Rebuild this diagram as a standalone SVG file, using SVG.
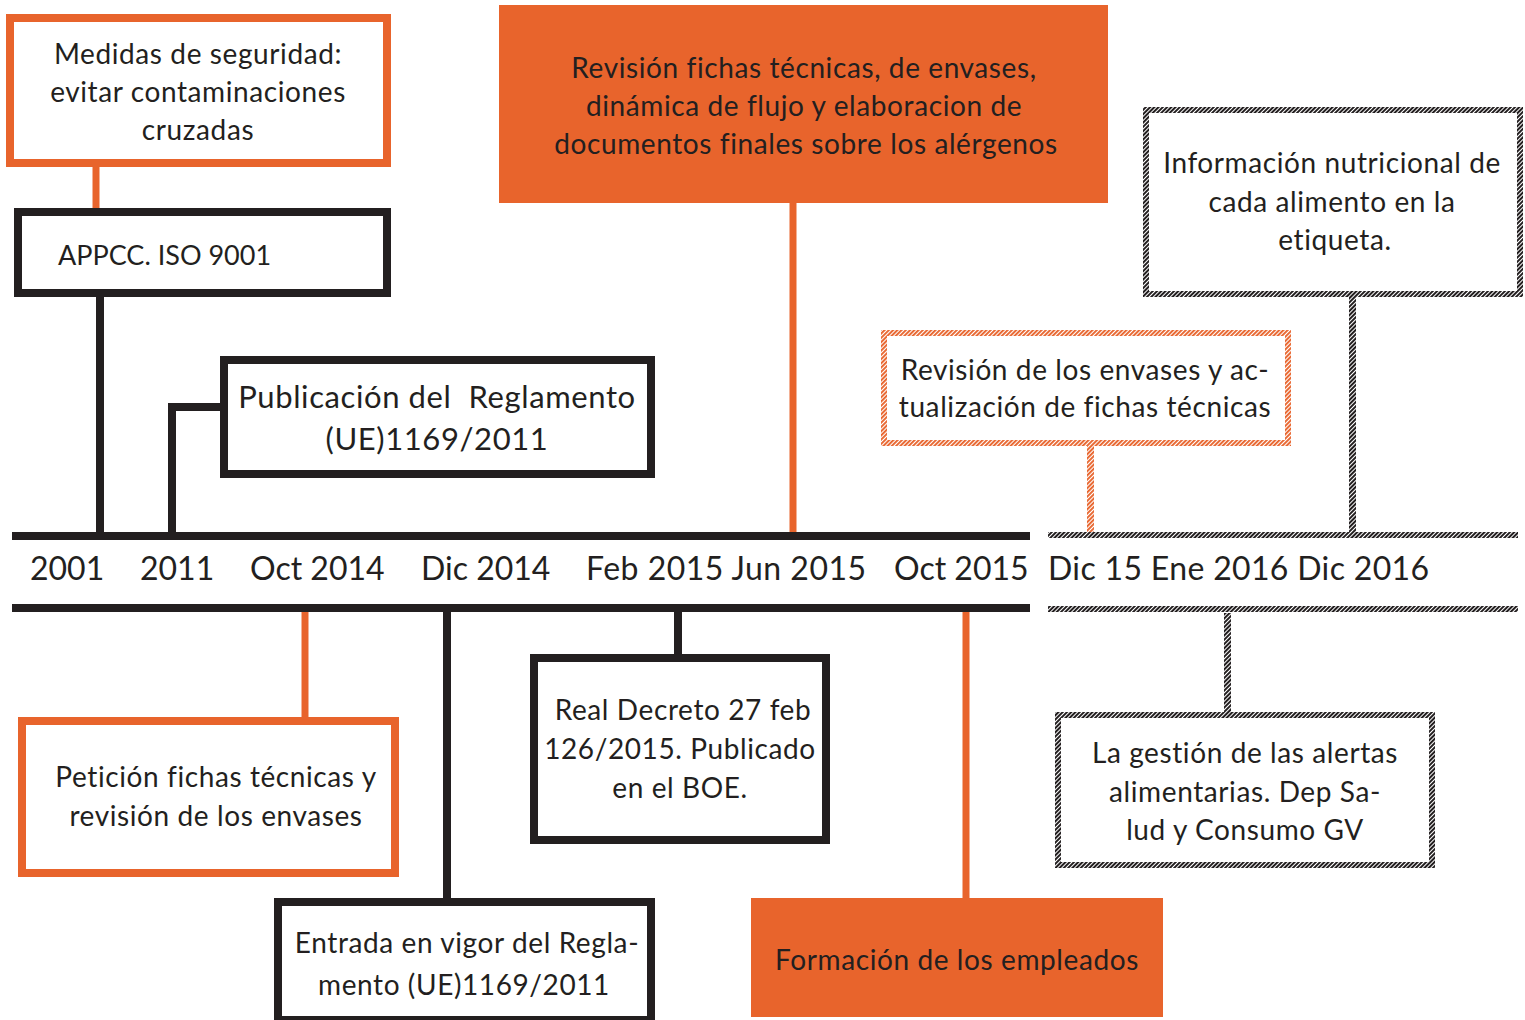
<svg xmlns="http://www.w3.org/2000/svg" width="1525" height="1020" viewBox="0 0 1525 1020">
<defs>
<pattern id="hatchK" patternUnits="userSpaceOnUse" width="3" height="3" patternTransform="rotate(45)">
<rect width="3" height="3" fill="#ffffff"/>
<rect width="2" height="3" fill="#231F20"/>
</pattern>
<pattern id="hatchO" patternUnits="userSpaceOnUse" width="3" height="3" patternTransform="rotate(45)">
<rect width="3" height="3" fill="#ffffff"/>
<rect width="1.9" height="3" fill="#E8642C"/>
</pattern>
<style>
text{font-family:Lato,"Carlito","Liberation Sans",sans-serif;fill:#231F20;}
.t{font-size:28px;letter-spacing:0.6px;text-anchor:middle;}
.big{font-size:31px;letter-spacing:0.6px;text-anchor:middle;white-space:pre;}
.tl{font-size:32px;}
.bk{fill:#ffffff;stroke:#231F20;stroke-width:8;}
.or{fill:#ffffff;stroke:#E8642C;stroke-width:8;}
.of{fill:#E8642C;}
.hk{fill:#ffffff;stroke:url(#hatchK);stroke-width:6;}
.ho{fill:#ffffff;stroke:url(#hatchO);stroke-width:6;}
.lk{stroke:#231F20;stroke-width:8;fill:none;}
.lo{stroke:#E8642C;stroke-width:7;fill:none;}
</style>
</defs>
<rect width="1525" height="1020" fill="#ffffff"/>

<g id="connectors">
<line class="lo" x1="96" y1="166" x2="96" y2="210"/>
<line class="lk" x1="100" y1="295" x2="100" y2="536"/>
<polyline class="lk" points="172,536 172,407 222,407"/>
<line class="lo" x1="793" y1="203" x2="793" y2="534"/>
<rect x="1349" y="297" width="7" height="236" fill="url(#hatchK)"/>
<rect x="1087" y="446" width="7" height="87" fill="url(#hatchO)"/>
<line class="lo" x1="305" y1="610" x2="305" y2="720"/>
<line class="lk" x1="447" y1="610" x2="447" y2="900"/>
<line class="lk" x1="678" y1="610" x2="678" y2="657"/>
<line class="lo" x1="966" y1="610" x2="966" y2="899"/>
<rect x="1224" y="613" width="7" height="100" fill="url(#hatchK)"/>
</g>

<g id="timeline">
<rect x="12" y="532" width="1018" height="8" fill="#231F20"/>
<rect x="12" y="604" width="1018" height="8" fill="#231F20"/>
<rect x="1048" y="532" width="470" height="6" fill="url(#hatchK)"/>
<rect x="1048" y="606" width="470" height="6" fill="url(#hatchK)"/>
<text class="tl" x="30" y="580">2001</text>
<text class="tl" x="140" y="580">2011</text>
<text class="tl" x="250" y="580">Oct 2014</text>
<text class="tl" x="421" y="580">Dic 2014</text>
<text class="tl" x="586" y="580" textLength="280" lengthAdjust="spacing">Feb 2015 Jun 2015</text>
<text class="tl" x="894" y="580">Oct 2015</text>
<text class="tl" x="1048" y="580" textLength="381" lengthAdjust="spacing">Dic 15 Ene 2016 Dic 2016</text>
</g>

<g id="n-medidas">
<rect class="or" x="10" y="18" width="377" height="145"/>
<text class="t" x="198" y="64">Medidas de seguridad:</text>
<text class="t" x="198" y="102">evitar contaminaciones</text>
<text class="t" x="198" y="140">cruzadas</text>
</g>

<g id="n-appcc">
<rect class="bk" x="18" y="212" width="369" height="81"/>
<text x="58" y="265" style="font-size:27px;letter-spacing:0">APPCC. ISO 9001</text>
</g>

<g id="n-publicacion">
<rect class="bk" x="224" y="360" width="427" height="114"/>
<text class="big" x="437" y="408">Publicación del  Reglamento</text>
<text class="big" x="437" y="450">(UE)1169/2011</text>
</g>

<g id="n-revision-fichas">
<rect class="of" x="499" y="5" width="609" height="198"/>
<text class="t" x="804" y="78">Revisión fichas técnicas, de envases,</text>
<text class="t" x="804" y="116">dinámica de flujo y elaboracion de</text>
<text class="t" x="806" y="154">documentos finales sobre los alérgenos</text>
</g>

<g id="n-info-nutricional">
<rect class="hk" x="1146" y="110" width="374" height="184"/>
<text class="t" x="1332" y="173">Información nutricional de</text>
<text class="t" x="1332" y="212">cada alimento en la</text>
<text class="t" x="1335" y="250">etiqueta.</text>
</g>

<g id="n-revision-envases">
<rect class="ho" x="884" y="333" width="404" height="110"/>
<text class="t" x="1085" y="380">Revisión de los envases y ac-</text>
<text class="t" x="1085" y="417">tualización de fichas técnicas</text>
</g>

<g id="n-peticion">
<rect class="or" x="22" y="721" width="373" height="152"/>
<text class="t" x="216" y="787">Petición fichas técnicas y</text>
<text class="t" x="216" y="826">revisión de los envases</text>
</g>

<g id="n-entrada">
<rect class="bk" x="278" y="902" width="373" height="118"/>
<text class="t" x="467" y="953">Entrada en vigor del Regla-</text>
<text class="t" x="464" y="995">mento (UE)1169/2011</text>
</g>

<g id="n-real-decreto">
<rect class="bk" x="534" y="658" width="292" height="182"/>
<text class="t" x="683" y="720">Real Decreto 27 feb</text>
<text class="t" x="680" y="759">126/2015. Publicado</text>
<text class="t" x="680" y="798">en el BOE.</text>
</g>

<g id="n-formacion">
<rect class="of" x="751" y="898" width="412" height="119"/>
<text class="t" x="957" y="970">Formación de los empleados</text>
</g>

<g id="n-alertas">
<rect class="hk" x="1058" y="715" width="374" height="150"/>
<text class="t" x="1245" y="763">La gestión de las alertas</text>
<text class="t" x="1245" y="802">alimentarias. Dep Sa-</text>
<text class="t" x="1245" y="840">lud y Consumo GV</text>
</g>
</svg>
